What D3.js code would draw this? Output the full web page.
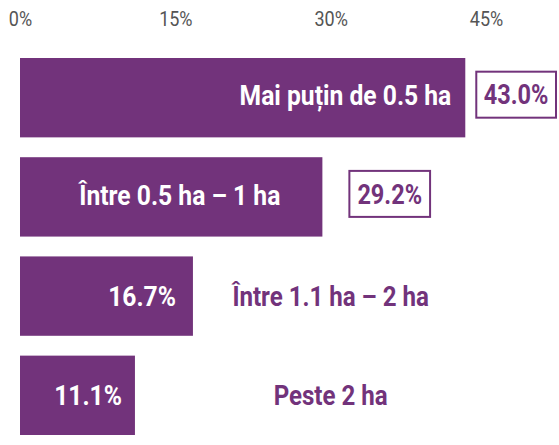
<!DOCTYPE html>
<html>
<head>
<meta charset="utf-8">
<script src="https://cdn.jsdelivr.net/npm/d3@7"></script>
<style>
  body { margin: 0; background: #fff; }
  text { font-family: Roboto, "DejaVu Sans Condensed", sans-serif; }
</style>
</head>
<body>
<script>
// data
var categories = ["Mai puțin de 0.5 ha", "Între 0.5 ha – 1 ha", "Între 1.1 ha – 2 ha", "Peste 2 ha"];
var values = [43.0, 29.2, 16.7, 11.1];
var tickValues = [0, 15, 30, 45];

var w = 559;
var h = 445;
var purple = "#72337b";

var svg = d3.select("body")
    .append("svg")
    .attr("width", w)
    .attr("height", h);

var xScale = d3.scaleLinear()
    .domain([0, 45])
    .range([20, 486]);

var yScale = d3.scaleBand()
    .domain(categories)
    .range([58, 435])
    .paddingInner(0.2)
    .paddingOuter(0);

// narrow the glyphs so they look like a condensed face
function narrow(sel, k) {
  sel.each(function() {
    var wd = this.getComputedTextLength();
    d3.select(this)
      .attr("textLength", wd * k)
      .attr("lengthAdjust", "spacingAndGlyphs");
  });
}

// top axis, labels only
var xAxis = d3.axisTop(xScale)
    .tickValues(tickValues)
    .tickFormat(function(d) { return d + "%"; })
    .tickSize(0)
    .tickPadding(0);

var gX = svg.append("g")
    .attr("transform", "translate(0,26)")
    .call(xAxis);
gX.select(".domain").remove();
gX.selectAll("text")
    .attr("font-family", null)
    .style("font-size", "20px")
    .style("fill", "#555")
    .call(narrow, 0.9);

var rows = categories.map(function(c, i) { return {cat: c, val: values[i], i: i}; });

// bars
svg.selectAll("rect.bar")
  .data(rows)
  .enter()
  .append("rect")
  .attr("class", "bar")
  .attr("x", xScale(0))
  .attr("y", function(d) { return yScale(d.cat); })
  .attr("width", function(d) { return xScale(d.val) - xScale(0); })
  .attr("height", yScale.bandwidth())
  .style("fill", purple);

var fmt = function(v) { return v.toFixed(1) + "%"; };
var big = function(d) { return d.val > 25; };
var kLab = 0.88;
// small per-row nudges for the labels
var insidePad = [14, 42, 17, 13];
var boxGap = [11, 27];

rows.forEach(function(d) {
  var cy = yScale(d.cat) + yScale.bandwidth() / 2;
  var g = svg.append("g");
  if (big(d)) {
    g.append("text")
      .attr("x", xScale(d.val) - insidePad[d.i])
      .attr("y", cy - 2)
      .attr("dy", "0.35em")
      .attr("text-anchor", "end")
      .style("font-size", "28px")
      .style("font-weight", "bold")
      .style("fill", "#fff")
      .text(d.cat)
      .call(narrow, kLab);
    var bx = xScale(d.val) + boxGap[d.i];
    var t = g.append("text")
      .attr("y", cy - 3)
      .attr("dy", "0.35em")
      .attr("text-anchor", "middle")
      .style("font-size", "28px")
      .style("font-weight", "bold")
      .style("fill", purple)
      .text(fmt(d.val))
      .call(narrow, 0.84);
    var tw = +t.attr("textLength");
    var bw = Math.min(tw + 16, w - 3 - bx);
    t.attr("x", bx + bw / 2);
    g.insert("rect", "text")
      .attr("x", bx)
      .attr("y", cy - 3 - 23)
      .attr("width", bw)
      .attr("height", 46)
      .style("fill", "#fff")
      .style("stroke", purple)
      .style("stroke-width", 2);
  } else {
    g.append("text")
      .attr("x", xScale(d.val) - insidePad[d.i])
      .attr("y", cy)
      .attr("dy", "0.35em")
      .attr("text-anchor", "end")
      .style("font-size", "28px")
      .style("font-weight", "bold")
      .style("fill", "#fff")
      .text(fmt(d.val))
      .call(narrow, kLab);
    g.append("text")
      .attr("x", xScale(30))
      .attr("y", cy)
      .attr("dy", "0.35em")
      .attr("text-anchor", "middle")
      .style("font-size", "28px")
      .style("font-weight", "bold")
      .style("fill", purple)
      .text(d.cat)
      .call(narrow, 0.86);
  }
});
</script>
</body>
</html>
